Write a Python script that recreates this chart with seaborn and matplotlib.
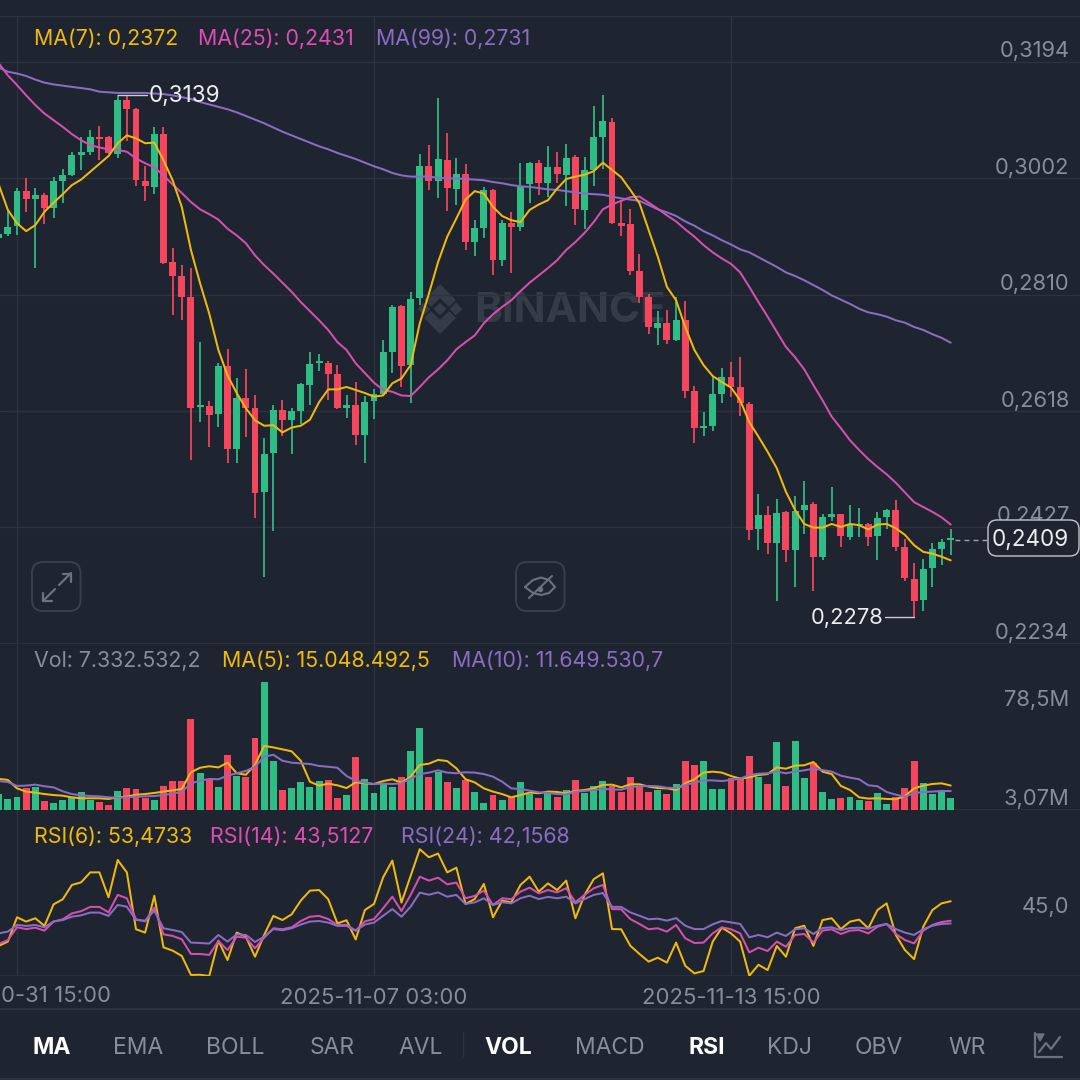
"""Binance style candlestick screen: price + MA, volume + MA, RSI"""
import numpy as np
import matplotlib
matplotlib.use("Agg")
import matplotlib.pyplot as plt
from matplotlib.patches import FancyBboxPatch, Polygon
import seaborn as sns

# prices in 1/10000 USDT
opens = [2903,2911,2923,2981,2968,2974,2954,2998,3008,3041,
         3046,3071,3070,3043,3132,3116,2997,2988,3076,2864,
         2841,2807,2625,2626,2613,2692,2556,2640,2623,2484,
         2549,2620,2603,2618,2661,2697,2697,2679,2623,2628,
         2578,2635,2647,2715,2791,2694,2804,3022,2997,3033,
         2985,3010,2897,2921,2983,2867,2928,2922,2992,3028,
         2995,3020,3008,3037,2950,3016,3071,3095,2928,2927,
         2849,2807,2756,2764,2735,2769,2651,2591,2594,2646,
         2675,2658,2630,2423,2447,2401,2451,2389,2455,2465,
         2377,2444,2448,2411,2430,2432,2412,2443,2455,2394,
         2342,2306,2359,2391,2405]
highs = [2917,2948,2986,3002,2986,2978,3005,3017,3045,3071,
         3082,3089,3072,3139,3138,3118,3022,3087,3087,2888,
         2859,2855,2732,2635,2698,2720,2672,2687,2644,2574,
         2629,2636,2623,2664,2716,2713,2701,2694,2644,2666,
         2643,2654,2735,2793,2793,2815,3042,3057,3135,3077,
         3035,3025,2934,2987,2985,2933,2947,3028,3029,3032,
         3055,3046,3058,3040,3038,3121,3139,3102,2966,2951,
         2877,2812,2783,2785,2807,2800,2659,2616,2674,2690,
         2699,2707,2633,2481,2461,2473,2453,2478,2503,2468,
         2449,2493,2449,2463,2459,2434,2451,2456,2471,2408,
         2368,2375,2401,2408,2423]
lows = [2900,2907,2908,2947,2854,2927,2936,2961,3006,3016,
        3040,3032,3043,3036,3063,2990,2964,2977,2861,2776,
        2769,2538,2600,2559,2592,2533,2533,2576,2442,2344,
        2421,2577,2548,2597,2629,2685,2636,2621,2607,2562,
        2532,2605,2644,2681,2658,2631,2793,2983,2969,2948,
        2958,2884,2874,2903,2842,2858,2846,2915,2962,2974,
        2971,2995,2956,2925,2919,2989,3018,2927,2907,2842,
        2797,2745,2727,2729,2734,2639,2566,2577,2585,2632,
        2642,2610,2406,2389,2382,2305,2369,2328,2415,2322,
        2372,2437,2394,2406,2411,2395,2372,2423,2388,2338,
        2278,2289,2328,2364,2381]
closes = [2910,2922,2981,2968,2975,2953,2997,3007,3041,3046,
          3070,3067,3044,3132,3116,2999,2989,3076,2863,2841,
          2806,2623,2628,2612,2692,2556,2640,2623,2483,2547,
          2620,2603,2618,2663,2696,2700,2679,2623,2628,2578,
          2634,2647,2715,2790,2693,2803,3022,2997,3034,2986,
          3010,2897,2921,2983,2867,2928,2922,2988,3028,2994,
          3020,3009,3035,2951,3016,3070,3096,2928,2924,2849,
          2807,2757,2763,2735,2769,2651,2591,2594,2646,2675,
          2658,2631,2422,2447,2400,2450,2389,2453,2463,2377,
          2443,2448,2412,2430,2432,2411,2442,2455,2394,2343,
          2305,2358,2390,2403,2409]
ma7 = [2992,2950,2928,2915,2925,2947,2962,2976,2991,3000,
       3013,3026,3039,3060,3073,3068,3060,3061,3032,2999,
       2955,2884,2829,2779,2719,2677,2648,2623,2603,2594,
       2595,2583,2591,2594,2604,2633,2654,2654,2658,2653,
       2648,2642,2644,2664,2672,2694,2763,2812,2864,2906,
       2936,2967,2981,2977,2955,2940,2933,2930,2950,2959,
       2966,2985,3001,3005,3008,3014,3028,3016,3004,2983,
       2961,2917,2873,2823,2801,2757,2719,2694,2676,2666,
       2657,2636,2600,2576,2551,2524,2485,2455,2432,2426,
       2426,2432,2427,2432,2430,2423,2431,2432,2425,2414,
       2397,2386,2383,2378,2372]
ma25 = [3192,3172,3156,3139,3123,3109,3098,3087,3075,3065,
        3057,3053,3050,3049,3046,3035,3027,3020,3007,2992,
        2978,2963,2951,2943,2934,2919,2908,2895,2875,2859,
        2845,2830,2815,2798,2783,2768,2752,2732,2719,2697,
        2681,2665,2653,2650,2644,2643,2658,2674,2687,2702,
        2720,2732,2743,2763,2778,2790,2801,2816,2830,2842,
        2854,2867,2884,2897,2912,2930,2951,2959,2965,2971,
        2972,2962,2952,2941,2931,2918,2906,2892,2880,2870,
        2861,2847,2823,2798,2774,2749,2724,2707,2687,2661,
        2636,2609,2590,2570,2554,2539,2526,2514,2500,2484,
        2468,2460,2452,2443,2431]
ma99 = [3185,3178,3175,3171,3165,3160,3157,3155,3153,3151,
        3149,3145,3144,3143,3143,3143,3143,3142,3141,3139,
        3136,3133,3128,3124,3120,3116,3111,3105,3099,3093,
        3086,3079,3073,3067,3061,3055,3050,3044,3039,3034,
        3028,3022,3017,3011,3007,3005,3005,3005,3003,3002,
        3002,3001,3000,2999,2996,2994,2991,2989,2988,2986,
        2984,2983,2981,2979,2977,2976,2975,2972,2969,2967,
        2965,2958,2951,2946,2940,2931,2924,2915,2908,2900,
        2893,2885,2880,2872,2864,2856,2847,2841,2834,2826,
        2818,2809,2802,2795,2787,2781,2778,2774,2768,2764,
        2757,2752,2745,2739,2731]

# volume in millions
volume = [9.8,6.8,8.2,13.3,14.4,5.7,4.5,5.9,8.2,10.9,
          6.2,4.9,3.1,11.5,13.3,12.7,7.4,6.4,14.6,18.0,
          17.6,55.8,22.6,18.5,13.9,33.8,20.9,20.1,44.3,78.5,
          30.3,12.1,13.5,17.4,13.9,18.0,18.7,7.4,9.0,32.8,
          19.3,10.7,16.4,13.9,20.1,36.5,50.4,20.1,23.6,17.4,
          13.5,18.5,10.9,4.5,9.0,6.2,7.8,17.0,9.8,7.6,
          10.3,7.8,12.1,18.5,10.7,14.8,17.8,14.8,11.3,20.5,
          14.4,10.9,12.1,9.8,16.0,30.3,27.7,29.9,12.9,12.9,
          19.5,18.9,33.2,20.5,16.0,41.8,15.0,42.2,19.9,28.7,
          11.1,7.0,7.4,7.8,5.9,5.3,10.3,3.9,7.8,13.5,
          30.3,16.4,9.8,11.1,7.33]
vol_ma5 = [19.1,18.5,13.3,11.3,10.7,9.8,9.2,8.8,7.8,7.2,
           7.2,7.2,6.8,7.8,8.2,9.4,9.8,10.5,11.3,12.1,
           12.9,23.2,26.0,26.9,26.2,29.1,22.6,21.7,27.7,39.4,
           38.5,37.3,36.1,30.3,17.4,15.0,16.2,15.2,13.5,17.0,
           16.4,16.0,17.8,18.9,16.8,20.5,27.7,28.5,30.8,30.1,
           25.6,18.9,17.0,13.3,11.3,9.8,7.8,9.2,10.7,10.3,
           11.3,11.1,10.3,11.7,12.3,13.3,15.4,15.6,13.9,15.8,
           15.8,14.4,13.5,13.3,12.3,16.4,18.9,23.0,23.6,23.0,
           20.9,19.3,20.1,21.5,22.1,26.2,25.4,27.3,27.5,29.5,
           23.6,22.1,14.8,12.3,7.8,7.0,7.2,6.8,6.6,8.6,
           13.3,15.0,16.0,16.4,15.05]
vol_ma10 = [17.8,17.2,14.8,15.0,15.6,14.6,13.9,11.5,9.8,9.0,
            8.6,8.4,7.8,7.6,7.8,8.2,8.4,8.6,9.2,10.0,
            11.3,16.4,18.0,19.1,18.9,21.1,22.6,24.0,26.6,32.8,
            34.0,30.3,29.1,28.7,28.3,27.1,26.6,26.0,20.9,18.0,
            16.8,16.0,16.2,16.0,16.4,19.3,22.1,23.0,24.4,23.0,
            22.6,23.2,23.0,22.1,20.5,17.4,13.3,12.9,11.9,10.9,
            10.5,9.8,9.6,11.3,11.7,12.3,12.9,12.7,12.5,14.1,
            14.6,14.8,14.6,13.7,13.5,15.4,16.8,18.2,18.2,17.8,
            18.5,19.3,21.5,22.3,22.6,23.6,22.6,23.6,24.4,25.4,
            24.6,23.6,21.1,19.9,18.9,15.2,14.6,11.1,9.4,8.2,
            10.3,11.1,11.3,11.7,11.65]

rsi6 = [30.7,32.9,45.3,43.1,44.8,40.9,51.9,54.5,61.8,63.1,
        68.2,68.2,55.5,74.5,68.2,39.2,37.5,56.3,30.0,28.3,
        25.6,15.9,16.0,15.4,33.4,23.5,37.5,35.4,25.2,36.3,
        46.0,43.9,46.8,53.8,58.9,59.2,54.5,42.2,43.8,34.0,
        49.0,52.1,65.7,74.2,52.8,66.4,80.0,75.9,77.8,68.2,
        70.6,52.1,54.6,62.3,45.3,53.8,52.9,61.8,66.0,58.4,
        62.6,59.2,64.0,44.8,56.7,64.7,67.7,39.3,39.2,30.8,
        26.6,22.7,24.7,22.2,32.4,20.6,16.7,17.9,32.9,40.0,
        37.1,32.9,15.5,21.1,18.4,30.7,25.2,39.7,41.0,30.7,
        43.9,44.8,39.3,43.1,44.1,39.7,49.0,52.4,36.3,28.6,
        24.0,40.5,49.0,52.4,53.47]
rsi14 = [31.7,33.7,40.2,39.3,40.0,38.5,43.1,44.3,47.3,48.4,
         50.6,50.6,47.8,56.7,55.0,44.3,43.2,50.2,36.6,35.8,
         34.1,26.6,26.6,26.1,33.2,28.6,35.4,34.9,29.5,34.9,
         39.7,39.2,40.2,43.4,45.6,46.0,44.4,41.4,41.4,38.5,
         43.2,44.4,49.9,55.8,48.5,56.7,66.0,64.0,65.5,62.1,
         63.0,55.0,56.2,58.9,51.6,55.0,54.5,58.4,60.4,57.5,
         59.2,58.0,60.1,53.0,56.7,60.1,61.8,49.5,49.4,44.4,
         41.9,39.2,39.7,38.0,41.4,34.6,32.2,32.4,37.1,40.2,
         39.2,37.1,27.4,29.8,28.1,32.9,30.3,36.3,36.8,32.4,
         38.5,39.2,36.8,38.5,38.8,37.1,40.5,41.9,36.8,33.7,
         32.0,38.5,41.4,42.9,43.51]
rsi24 = [37.1,38.0,41.4,40.9,41.4,40.2,43.2,43.9,45.6,46.3,
         47.7,47.7,46.0,51.6,50.7,43.9,43.6,48.7,39.7,38.8,
         37.8,32.4,32.2,31.9,36.3,32.9,36.6,36.3,32.7,35.4,
         39.3,38.7,39.7,41.6,43.1,43.4,42.6,40.9,40.9,38.5,
         41.6,42.6,46.1,49.5,45.6,50.7,57.9,56.8,58.0,55.8,
         56.7,52.1,52.9,55.0,51.6,53.0,52.4,55.0,56.3,54.6,
         55.7,55.0,55.8,52.4,54.6,56.7,57.7,50.6,50.6,47.8,
         46.1,44.3,44.6,43.6,44.9,41.0,39.3,39.3,41.7,43.4,
         42.7,41.9,35.1,36.3,35.1,37.5,35.8,39.2,39.7,36.8,
         39.8,40.2,38.8,39.8,40.0,39.5,41.0,41.9,39.3,37.5,
         36.3,39.2,41.0,41.9,42.16]

price_ticks = [0.3194, 0.3002, 0.2810, 0.2618, 0.2427, 0.2234]
vol_ticks = [78.5, 3.07]
rsi_ticks = [45.0]
time_idx = [2, 41, 80]
time_labels = ["0-31 15:00", "2025-11-07 03:00", "2025-11-13 15:00"]
tabs = [("MA", 33, True), ("EMA", 113, False), ("BOLL", 206, False), ("SAR", 310, False),
        ("AVL", 398, False), ("VOL", 484, True), ("MACD", 575, False), ("RSI", 688, True),
        ("KDJ", 767, False), ("OBV", 855, False), ("WR", 948, False)]

BG = "#1F2530"
GRID = "#2D333E"
GREEN = "#2EBD85"
RED = "#F6465D"
YELLOW = "#F0B90B"
PINK = "#D64FB0"
PURPLE = "#8A6CC4"
GRAY = "#848E9C"
WHITE = "#EAECEF"

sns.set_theme(style="dark", rc={"axes.facecolor": "none", "figure.facecolor": BG})
plt.rcParams["font.family"] = ["Inter", "DejaVu Sans"]

W, H = 1080, 1080
fig = plt.figure(figsize=(W / 100, H / 100), dpi=100)


def pane(top, bottom, z=1):
    ax = fig.add_axes([0, 1 - bottom / H, 1, (bottom - top) / H], zorder=z)
    sns.despine(ax=ax, left=True, bottom=True)
    ax.patch.set_alpha(0)
    return ax


# background + overlay in screen pixels
bg = pane(0, H, 0)
bg.set_xlim(0, W)
bg.set_ylim(H, 0)
bg.axis("off")
over = pane(0, H, 5)
over.set_xlim(0, W)
over.set_ylim(H, 0)
over.axis("off")

# watermark
WM = "#363C47"
lx, ly = 440, 309
for cx in [-16, 0, 16]:
    bg.add_patch(Polygon([(lx + cx - 5.5, ly), (lx + cx, ly - 5.5), (lx + cx + 5.5, ly), (lx + cx, ly + 5.5)], color=WM))
for s in [-1, 1]:
    bg.add_patch(Polygon([(lx, ly + s * 24), (lx + 15, ly + s * 9), (lx + 9, ly + s * 3), (lx, ly + s * 12),
                          (lx - 9, ly + s * 3), (lx - 15, ly + s * 9)], color=WM))
bg.text(474, 311, "BINANCE", color=WM, fontsize=30.3, fontweight="bold", va="center", ha="left")

ax_p = pane(16, 644)
ax_v = pane(644, 810)
ax_r = pane(810, 976)
idx = np.arange(len(closes))

o = np.array(opens) / 1e4
h = np.array(highs) / 1e4
l = np.array(lows) / 1e4
c = np.array(closes) / 1e4
up = c >= o
colors = [GREEN if u else RED for u in up]

# candles
ax_p.vlines(idx, l, h, colors=colors, lw=1.25, zorder=2)
ax_p.bar(idx, np.abs(c - o), bottom=np.minimum(o, c), width=0.76, color=colors, linewidth=0, zorder=3)
LW = 1.45
for vals, col in [(ma99, PURPLE), (ma25, PINK), (ma7, YELLOW)]:
    sns.lineplot(x=idx, y=np.array(vals) / 1e4, ax=ax_p, color=col, lw=LW, errorbar=None, zorder=4)

# volume
sns.barplot(x=idx, y=volume, hue=["up" if u else "down" for u in up], palette={"up": GREEN, "down": RED},
            ax=ax_v, native_scale=True, dodge=False, width=0.76, legend=False, saturation=1, linewidth=0, zorder=2)
sns.lineplot(x=idx, y=vol_ma5, ax=ax_v, color=YELLOW, lw=LW, errorbar=None, zorder=4)
sns.lineplot(x=idx, y=vol_ma10, ax=ax_v, color=PURPLE, lw=LW, errorbar=None, zorder=4)

# rsi
for vals, col in [(rsi6, YELLOW), (rsi14, PINK), (rsi24, PURPLE)]:
    sns.lineplot(x=idx, y=vals, ax=ax_r, color=col, lw=LW, errorbar=None, zorder=4)

xlim = (2 - 17 / 9.154, 2 + 1063 / 9.154)
limits = [(ax_p, (0.2234, 0.2234 + 628 * 0.00016495)), (ax_v, (0, 102.1)), (ax_r, (15.37, 100))]
for ax, yl in limits:
    ax.set_xlim(xlim)
    ax.set_ylim(yl)
    ax.set_xlabel("")
    ax.set_ylabel("")
    ax.set_yticks([])
    ax.set_xticks(time_idx)
    ax.set_xticklabels([])
    ax.tick_params(length=0)
    ax.grid(axis="x", color=GRID, lw=1.0, zorder=0)
    ax.set_axisbelow(True)
    ax.axhline(yl[0], color=GRID, lw=2, zorder=1)
ax_r.set_xticklabels(["", time_labels[1], time_labels[2]], color=GRAY, fontsize=15.9)
ax_r.tick_params(axis="x", pad=8.5)
# first time label runs off the left edge of the screen, only its tail shows
over.text(111, 996.5, time_labels[0], color=GRAY, fontsize=15.9, ha="right", va="center")

TS = 15.8
LS = 15.4


def ylabel(ax, val, text, off):
    ax.annotate(text, xy=(1, val), xycoords=ax.get_yaxis_transform(), xytext=(-7.4, off),
                textcoords="offset points", ha="right", va="center", color=GRAY, fontsize=TS, zorder=6)


for p in price_ticks:
    ax_p.axhline(p, color=GRID, lw=1.0, zorder=1)
    ylabel(ax_p, p, f"{p:.4f}".replace(".", ","), 7.6)
ax_p.axhline(0.2234 + 628 * 0.00016495 - 0.00005, color=GRID, lw=1.0, zorder=1)
for v, off in zip(vol_ticks, [-13, 4]):
    ylabel(ax_v, v, f"{v:g}".replace(".", ",") + "M", off)
for v in rsi_ticks:
    ylabel(ax_r, v, f"{v:.1f}".replace(".", ","), 7.6)

# high / low markers
i_hi = int(np.argmax(h))
ax_p.plot([i_hi, i_hi + 3.2], [h[i_hi], h[i_hi]], color="#C8CCD2", lw=1, zorder=5)
ax_p.text(i_hi + 3.4, h[i_hi] - 0.0001, f"{h[i_hi]:.4f}".replace(".", ","), color=WHITE, fontsize=16.2, va="center", zorder=6)
i_lo = int(np.argmin(l))
ax_p.plot([i_lo - 3.2, i_lo], [l[i_lo], l[i_lo]], color="#C8CCD2", lw=1, zorder=5)
ax_p.text(i_lo - 3.3, l[i_lo] - 0.0001, f"{l[i_lo]:.4f}".replace(".", ","), color=WHITE, fontsize=TS, va="center", ha="right", zorder=6)

# legends
for x, y, txt, col in [(34, 39, "MA(7): 0,2372", YELLOW), (198, 39, "MA(25): 0,2431", "#E04CB4"),
                       (376, 39, "MA(99): 0,2731", PURPLE), (34, 661, "Vol: 7.332.532,2", GRAY),
                       (222, 661, "MA(5): 15.048.492,5", YELLOW), (452, 661, "MA(10): 11.649.530,7", PURPLE),
                       (34, 837, "RSI(6): 53,4733", YELLOW), (210, 837, "RSI(14): 43,5127", "#E04CB4"),
                       (401, 837, "RSI(24): 42,1568", PURPLE)]:
    over.text(x, y, txt, color=col, fontsize=LS, va="center", ha="left")

# last price tag
over.plot([955, 987], [539.5, 539.5], color="#A0A6B0", lw=1, ls=(0, (3.5, 3)))
over.add_patch(FancyBboxPatch((988, 520), 91, 36, boxstyle="round,pad=0,rounding_size=9", fc=BG, ec="#C4C8CE", lw=1))
over.text(1069, 540, "0,2409", color=WHITE, fontsize=16.2, va="center", ha="right")

# chart buttons
ICON = "#6C727D"
for x0 in [32, 516]:
    over.add_patch(FancyBboxPatch((x0, 562), 48.5, 49, boxstyle="round,pad=0,rounding_size=11", fc="none", ec="#3A404B", lw=1.4))
for seg in [[(59, 585), (71, 573)], [(63, 573.5), (71, 573.5), (71, 582)],
            [(43, 601), (55, 589)], [(43, 593), (43, 601), (52, 601)]]:
    xs, ys = zip(*seg)
    over.plot(xs, ys, color=ICON, lw=1.6)
over.plot([525, 533, 541, 549, 555, 549, 541, 533, 525], [587, 580, 577.5, 580, 587, 593, 595, 593, 587], color=ICON, lw=1.5)
over.plot([529, 552], [598, 576], color=ICON, lw=1.5)
over.plot([540], [589], marker="o", ms=3, color=ICON)

# indicator tabs
for x, lab, bold in [(t[1], t[0], t[2]) for t in tabs]:
    over.text(x, 1047.5, lab, color="#FFFFFF" if bold else GRAY, fontsize=16.5,
              fontweight="bold" if bold else "normal", va="center", ha="left")
over.plot([462.5, 462.5], [1032, 1056], color=GRID, lw=1)
over.plot([0, W], [1009, 1009], color=GRID, lw=1.4)
over.plot([0, W], [1078.5, 1078.5], color=GRID, lw=1.4)
over.plot([1035, 1035, 1062], [1033, 1057, 1057], color=ICON, lw=1.6)
over.plot([1039, 1046, 1051, 1060], [1052, 1043, 1049, 1037], color=ICON, lw=1.6)
over.add_patch(Polygon([(1036.5, 1034), (1044, 1034), (1040, 1041)], color=ICON))

fig.savefig("out.png", dpi=100, facecolor=BG)
